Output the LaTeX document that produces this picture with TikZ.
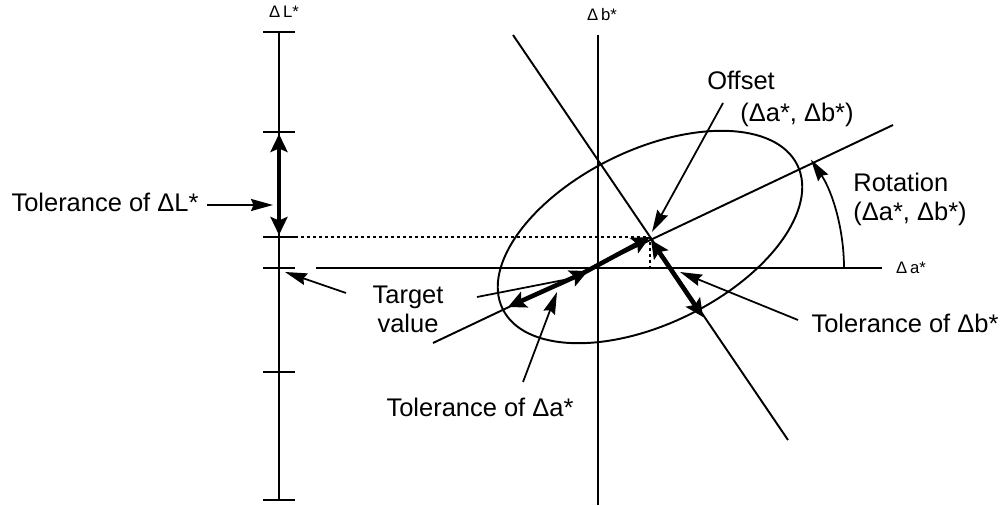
\documentclass[tikz,border=0pt]{standalone}
\usepackage{fontspec}
\setmainfont{Liberation Sans}
\usetikzlibrary{arrows.meta}
\tikzset{
  axline/.style={line width=1.1pt},
  dotline/.style={line width=0.8pt,dash pattern=on 0.06cm off 0.06cm},
  pedge/.style={-{Stealth[length=0.44cm,width=0.24cm,inset=0.05cm]},line width=1pt},
  tvec/.style={-{Stealth[length=0.36cm,width=0.34cm,inset=0.07cm]},line width=2.6pt},
  tedge/.style={{Stealth[length=0.36cm,width=0.34cm,inset=0.07cm]}-{Stealth[length=0.36cm,width=0.34cm,inset=0.07cm]},line width=2.6pt},
  lbl/.style={font=\fontsize{14.5}{16.5}\selectfont,inner sep=0pt},
  axlbl/.style={font=\fontsize{9.5}{11}\selectfont,inner sep=0pt},
}
\begin{document}
\begin{tikzpicture}[x=0.02cm,y=-0.02cm]
  \useasboundingbox (0,0) rectangle (1007,506);

  % Delta L* axis with ticks
  \coordinate (Ltop) at (279,32);
  \coordinate (Lbot) at (279,500);
  \draw[axline] (Ltop) -- (Lbot);
  \foreach \y in {32,132,237,268,372,500}
    \draw[axline] (263,\y) -- (295,\y);
  \node[axlbl] (Llbl) at (284,12) {Δ\,L*};

  % a*/b* plane
  \coordinate (C) at (650,237);
  \coordinate (Cfoot) at (650,268);
  \coordinate (Lmark) at (295,237);
  \coordinate (aL) at (316,268);
  \coordinate (aR) at (882,268);
  \coordinate (bT) at (598,35);
  \coordinate (bB) at (598,505);
  \draw[axline] (aL) -- (aR);
  \draw[axline] (bT) -- (bB);
  \node[axlbl] (albl) at (911,268) {Δ\,a*};
  \node[axlbl] (blbl) at (602,15) {Δ\,b*};
  \draw[dotline] (Lmark) -- (C) -- (Cfoot);

  % rotated tolerance ellipse and its axes
  \coordinate (majL) at (433,343);
  \coordinate (majR) at (893,125);
  \coordinate (minT) at (513,35);
  \coordinate (minB) at (788,440);
  \draw[axline] (majL) -- (majR);
  \draw[axline] (minT) -- (minB);
  \draw[axline,rotate around={26:(C)}] (C) ellipse[x radius=3.28cm,y radius=1.74cm];

  % thick vectors
  \coordinate (Lhi) at (279,134);
  \coordinate (Llo) at (279,235);
  \coordinate (T) at (574,278);
  \coordinate (aLo) at (508,307);
  \coordinate (aHi) at (588,271);
  \coordinate (bHi) at (651,240);
  \coordinate (bLo) at (703,317);
  \draw[tedge] (Lhi) -- (Llo);
  \draw[tedge] (aLo) -- (aHi);
  \draw[tvec] (T) -- (C);
  \draw[tedge] (bHi) -- (bLo);

  % labels
  \node[lbl] (tolL) at (105,202) {Tolerance of ΔL*};
  \node[lbl,align=center] (target) at (408,309) {Target\\value};
  \node[lbl] (tolA) at (480,407) {Tolerance of Δa*};
  \node[lbl] (tolB) at (905,323) {Tolerance of Δb*};
  \node[lbl] (offset) at (741,80) {Offset};
  \node[lbl] (offsetab) at (797,115) {(Δa*, Δb*)};
  \node[lbl,align=left,anchor=west] (rot) at (853,199) {Rotation\\(Δa*, Δb*)};

  % pointers
  \coordinate (pL1) at (207,205);
  \coordinate (pL2) at (273,205);
  \coordinate (pT1) at (346,293);
  \coordinate (pT2) at (285,272);
  \coordinate (pT3) at (477,297);
  \coordinate (pA1) at (523,382);
  \coordinate (pA2) at (557,292);
  \coordinate (pB1) at (798,320);
  \coordinate (pB2) at (680,272);
  \coordinate (pO1) at (723,103);
  \coordinate (pO2) at (652,232);
  \coordinate (rotS) at (844,268);
  \draw[pedge] (pL1) -- (pL2);
  \draw[pedge] (pT1) -- (pT2);
  \draw[line width=1pt] (pT3) -- (T);
  \draw[pedge] (pA1) -- (pA2);
  \draw[pedge] (pB1) -- (pB2);
  \draw[pedge] (pO1) -- (pO2);
  \draw[pedge] (rotS) arc[start angle=0,end angle=34,radius=3.88cm];
\end{tikzpicture}
\end{document}
